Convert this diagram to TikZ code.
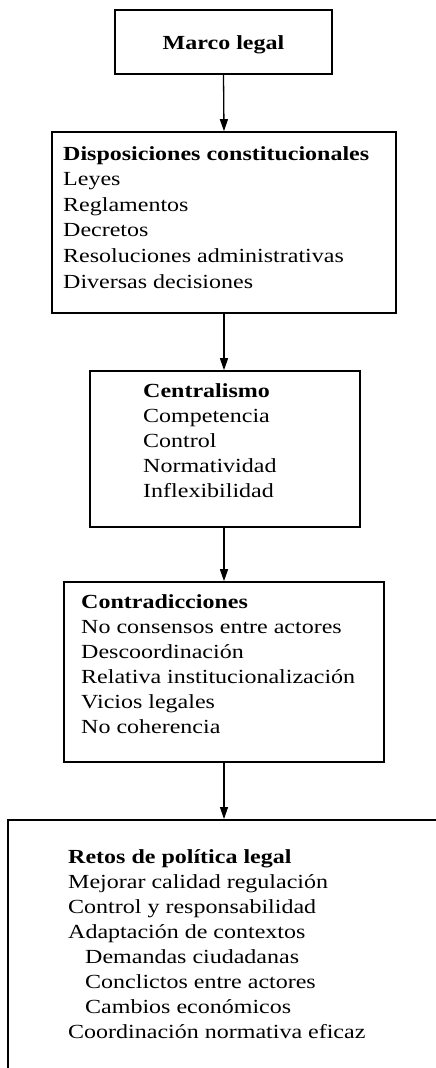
\documentclass[tikz,border=0pt]{standalone}
\usepackage{fontspec}
\setmainfont{Liberation Serif}[FakeStretch=1.2]
\usetikzlibrary{arrows.meta}
\tikzset{
  box/.style={draw, line width=1.6pt, rectangle, inner sep=0pt},
  txt/.style={anchor=base west, align=left, inner sep=0pt, font=\fontsize{20}{25}\selectfont},
  flow/.style={line width=1.3pt, -{Triangle[length=12pt,width=8pt]}}
}
\begin{document}
\begin{tikzpicture}[x=1pt,y=-1pt]
\useasboundingbox (0,0) rectangle (436,1068);
% boxes
\node[box, minimum width=217pt, minimum height=64pt] (b1) at (223.5,42) {};
\node[box, minimum width=344pt, minimum height=181pt] (b2) at (224,222.5) {};
\node[box, minimum width=270pt, minimum height=156pt] (b3) at (225,449) {};
\node[box, minimum width=320pt, minimum height=180pt] (b4) at (224,672) {};
\node[box, minimum width=500pt, minimum height=400pt, anchor=north west] (b5) at (7,819) {};
% texts (anchored at the baseline of the last line)
\node[font=\fontsize{20}{25}\selectfont\bfseries, inner sep=0pt, anchor=base] (t1) at (223.5,49) {Marco legal};
\node[txt, font=\fontsize{20}{25.6}\selectfont] (t2) at (63,288) {\textbf{Disposiciones constitucionales}\\Leyes\\Reglamentos\\Decretos\\Resoluciones administrativas\\Diversas decisiones};
\node[txt] (t3) at (143,497) {\textbf{Centralismo}\\Competencia\\Control\\Normatividad\\Inflexibilidad};
\node[txt] (t4) at (81,733) {\textbf{Contradicciones}\\No consensos entre actores\\Descoordinación\\Relativa institucionalización\\Vicios legales\\No coherencia};
\node[txt] (t5) at (68,1038) {\textbf{Retos de política legal}\\Mejorar calidad regulación\\Control y responsabilidad\\Adaptación de contextos\\\hspace*{17pt}Demandas ciudadanas\\\hspace*{17pt}Conclictos entre actores\\\hspace*{17pt}Cambios económicos\\Coordinación normativa eficaz};
% connectors
\draw[flow] (b1.south) -- (b2.north);
\draw[flow] (b2.south) -- (b3.north -| b2.south);
\draw[flow] (b3.south -| b2.south) -- (b4.north -| b2.south);
\draw[flow] (b4.south) -- (b4.south |- b5.north);
\end{tikzpicture}
\end{document}
